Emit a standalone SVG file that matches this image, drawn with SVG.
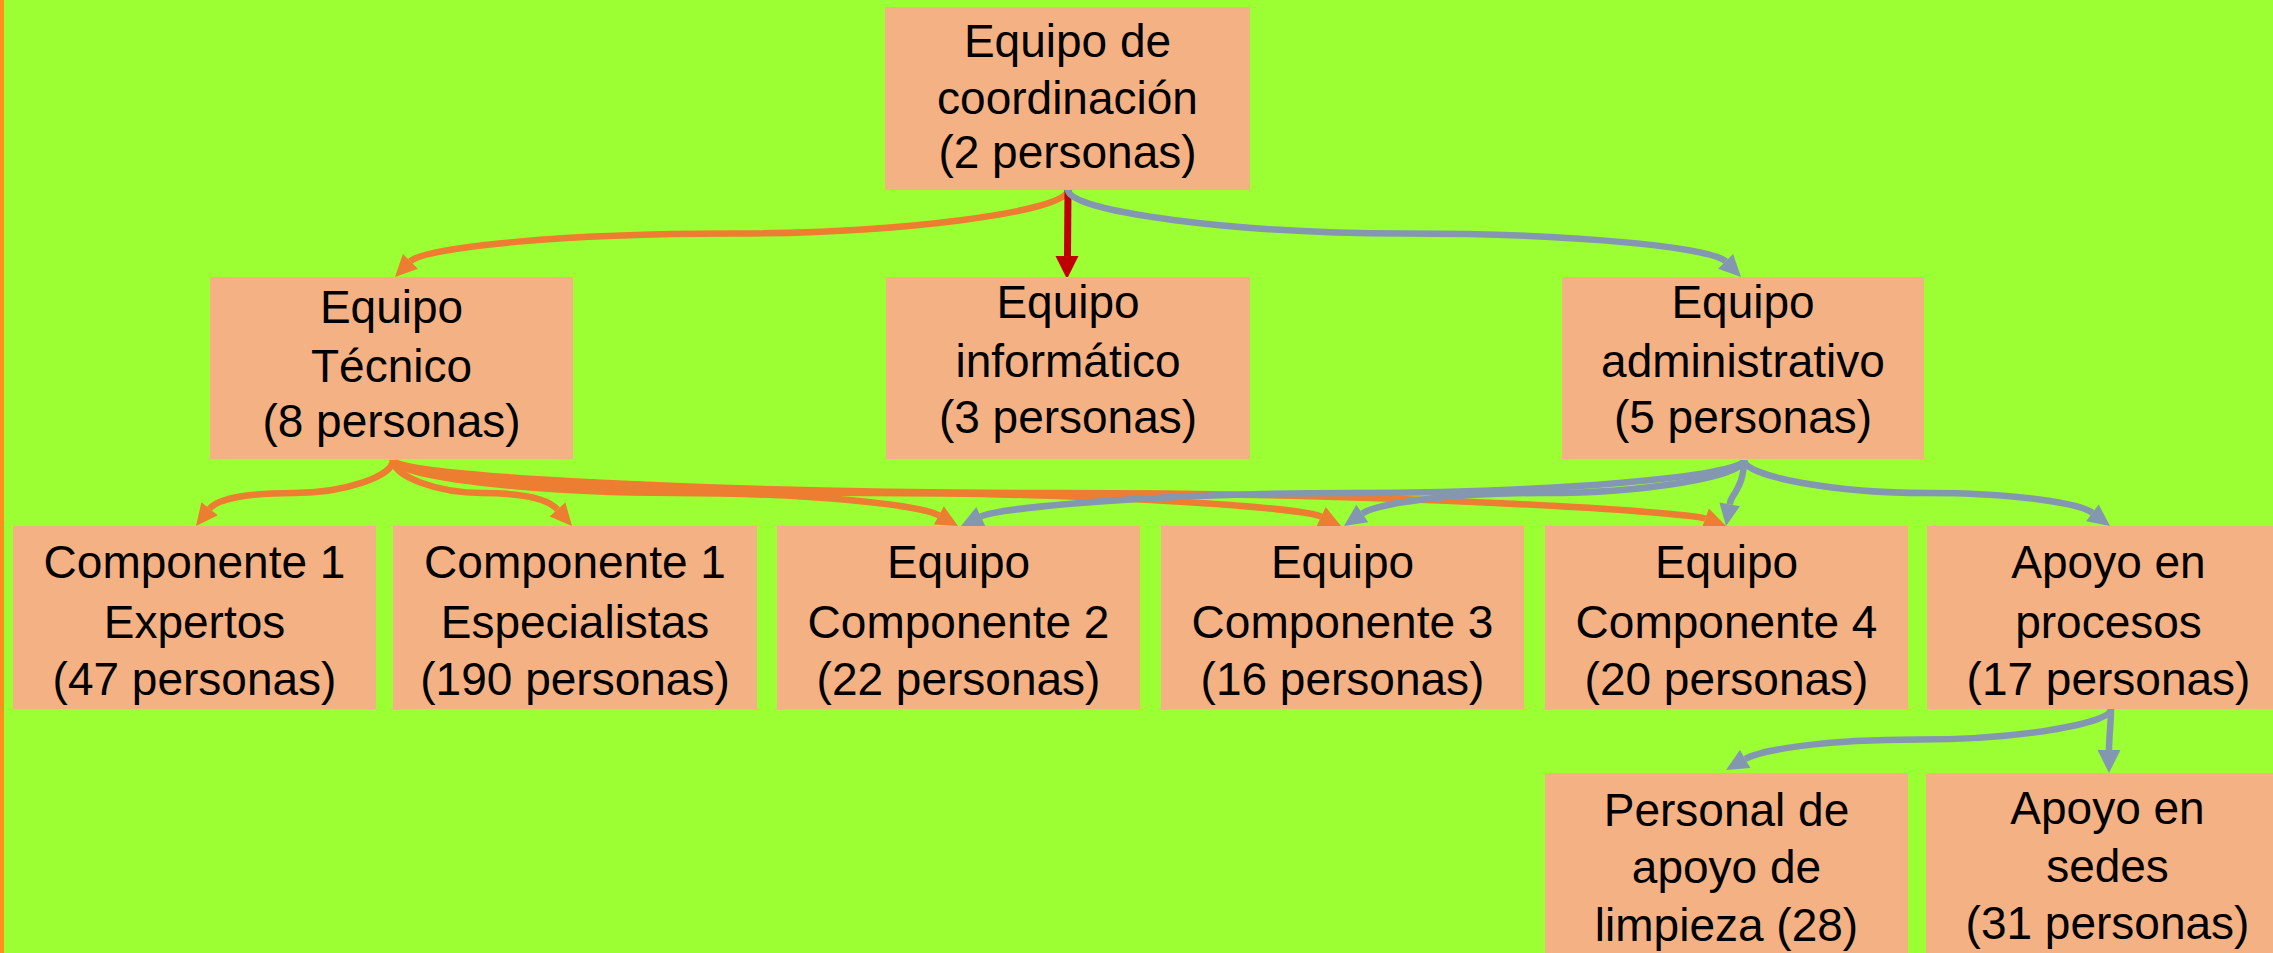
<svg xmlns="http://www.w3.org/2000/svg" width="2273" height="953" viewBox="0 0 2273 953">
<style>
.bg{fill:#9BFF33}
.node rect{fill:#F4B183}
.node text{font-family:"Liberation Sans",Arial,sans-serif;font-size:46px;fill:#000;text-anchor:middle}
.o{fill:none;stroke:#ED7D31;stroke-width:6.5}
.b{fill:none;stroke:#8497B0;stroke-width:6.5}
.r{fill:none;stroke:#C00000;stroke-width:7}
.oh{fill:#ED7D31}
.bh{fill:#8497B0}
.rh{fill:#C00000}
</style>
<rect class="bg" x="0" y="0" width="2273" height="953"/>
<rect x="0" y="0" width="4" height="953" fill="#FF8E1A"/>

<g id="connectors">
  <!-- top -> Tecnico -->
  <path class="o" d="M1068,190 C1068,211.75 900,233.5 731.5,233.5 C563,233.5 424.4,247.2 410.4,261.4"/>
  <polygon class="oh" points="395,277 402.9,254 417.9,268.8"/>
  <!-- top -> informatico -->
  <path class="r" d="M1068,190 L1067.5,257"/>
  <polygon class="rh" points="1067,279 1055.5,256 1078.5,256"/>
  <!-- top -> administrativo -->
  <path class="b" d="M1068,190 C1068,211.75 1236,233.5 1404.5,233.5 C1573,233.5 1711.6,247.2 1725.6,261.4"/>
  <polygon class="bh" points="1741,277 1718.1,268.8 1733.1,254"/>

  <!-- Tecnico -> Expertos -->
  <path class="o" d="M393,460 C393,476.5 344,493 294.5,493 C245,493 217,499.4 209.6,508.8"/>
  <polygon class="oh" points="196,526 201.4,502.3 217.8,515.3"/>
  <!-- Tecnico -> Especialistas -->
  <path class="o" d="M393,460 C393,476.5 437.75,493 482.5,493 C527.25,493 549.6,500.5 557.5,509.5"/>
  <polygon class="oh" points="572,526 549.6,516.4 565.4,502.6"/>
  <!-- Tecnico -> Comp 2 -->
  <path class="o" d="M393,460 C393,476.5 534.25,493 675.5,493 C816.75,493 921.5,505.8 938.9,515.4"/>
  <polygon class="oh" points="958,526 933.9,524.5 943.9,506.3"/>
  <!-- Tecnico -> Comp 3 -->
  <path class="o" d="M393,460 C393,476.5 630,493 867,493 C1104,493 1303.2,507.9 1321.2,516.5"/>
  <polygon class="oh" points="1341,526 1316.7,526 1325.7,507"/>
  <!-- Tecnico -> Comp 4 -->
  <path class="o" d="M393,460 C393,476.5 726.25,493 1059.5,493 C1392.75,493 1686.5,511.7 1705.3,518.5"/>
  <polygon class="oh" points="1726,526 1701.7,528.4 1708.9,508.6"/>

  <!-- Admin -> Comp 2 -->
  <path class="b" d="M1744,460 C1744,476.5 1548.25,493 1352.5,493 C1156.75,493 998.8,507.9 980.8,516.5"/>
  <polygon class="bh" points="961,526 976.3,507 985.3,525.9"/>
  <!-- Admin -> Comp 3 -->
  <path class="b" d="M1744,460 C1744,476.5 1644,493 1544,493 C1444,493 1375.6,504.4 1362.3,513.5"/>
  <polygon class="bh" points="1344,526 1356.3,504.8 1368.3,522.2"/>
  <!-- Admin -> Comp 4 -->
  <path class="b" d="M1744,460 C1744,476.5 1739.5,485 1735,493 C1731,499 1730.7,498.5 1729.7,504.4"/>
  <polygon class="bh" points="1726,526 1719.4,502.6 1740,506.2"/>
  <!-- Admin -> Apoyo procesos -->
  <path class="b" d="M1744,460 C1744,476.5 1835.5,493 1927,493 C2018.5,493 2080.4,503.8 2092.4,512.8"/>
  <polygon class="bh" points="2110,526 2086.1,521.2 2098.7,504.4"/>

  <!-- Apoyo procesos -> Personal limpieza -->
  <path class="b" d="M2111,709 C2111,724.25 2014.75,739.5 1918.5,739.5 C1822.25,739.5 1760.8,750 1745.1,759"/>
  <polygon class="bh" points="1726,770 1739.9,749.9 1750.4,768.1"/>
  <!-- Apoyo procesos -> Apoyo sedes -->
  <path class="b" d="M2111,709 C2111,725 2109,735 2109,751"/>
  <polygon class="bh" points="2109,773 2097.5,750 2120.5,750"/>
</g>

<g id="coordinacion" class="node">
  <rect x="885" y="7" width="365" height="183"/>
  <text x="1067.5"><tspan x="1067.5" y="57">Equipo de</tspan><tspan x="1067.5" y="114">coordinación</tspan><tspan x="1067.5" y="168">(2 personas)</tspan></text>
</g>
<g id="tecnico" class="node">
  <rect x="210" y="277" width="363" height="182"/>
  <text><tspan x="391.5" y="323">Equipo</tspan><tspan x="391.5" y="382">Técnico</tspan><tspan x="391.5" y="437">(8 personas)</tspan></text>
</g>
<g id="informatico" class="node">
  <rect x="886" y="277" width="364" height="182"/>
  <text><tspan x="1068" y="318">Equipo</tspan><tspan x="1068" y="377">informático</tspan><tspan x="1068" y="433">(3 personas)</tspan></text>
</g>
<g id="administrativo" class="node">
  <rect x="1562" y="277" width="362" height="182"/>
  <text><tspan x="1743" y="318">Equipo</tspan><tspan x="1743" y="377">administrativo</tspan><tspan x="1743" y="433">(5 personas)</tspan></text>
</g>

<g id="expertos" class="node">
  <rect x="13" y="526" width="363" height="183"/>
  <text><tspan x="194.5" y="578">Componente 1</tspan><tspan x="194.5" y="638">Expertos</tspan><tspan x="194.5" y="695">(47 personas)</tspan></text>
</g>
<g id="especialistas" class="node">
  <rect x="393" y="526" width="364" height="183"/>
  <text><tspan x="575" y="578">Componente 1</tspan><tspan x="575" y="638">Especialistas</tspan><tspan x="575" y="695">(190 personas)</tspan></text>
</g>
<g id="componente2" class="node">
  <rect x="777" y="526" width="363" height="183"/>
  <text><tspan x="958.5" y="578">Equipo</tspan><tspan x="958.5" y="638">Componente 2</tspan><tspan x="958.5" y="695">(22 personas)</tspan></text>
</g>
<g id="componente3" class="node">
  <rect x="1161" y="526" width="363" height="183"/>
  <text><tspan x="1342.5" y="578">Equipo</tspan><tspan x="1342.5" y="638">Componente 3</tspan><tspan x="1342.5" y="695">(16 personas)</tspan></text>
</g>
<g id="componente4" class="node">
  <rect x="1545" y="526" width="363" height="183"/>
  <text><tspan x="1726.5" y="578">Equipo</tspan><tspan x="1726.5" y="638">Componente 4</tspan><tspan x="1726.5" y="695">(20 personas)</tspan></text>
</g>
<g id="procesos" class="node">
  <rect x="1927" y="526" width="363" height="183"/>
  <text><tspan x="2108.5" y="578">Apoyo en</tspan><tspan x="2108.5" y="638">procesos</tspan><tspan x="2108.5" y="695">(17 personas)</tspan></text>
</g>

<g id="limpieza" class="node">
  <rect x="1545" y="773" width="363" height="183"/>
  <text><tspan x="1726.5" y="826">Personal de</tspan><tspan x="1726.5" y="883">apoyo de</tspan><tspan x="1726.5" y="941">limpieza (28)</tspan></text>
</g>
<g id="sedes" class="node">
  <rect x="1926" y="773" width="363" height="183"/>
  <text><tspan x="2107.5" y="824">Apoyo en</tspan><tspan x="2107.5" y="882">sedes</tspan><tspan x="2107.5" y="939">(31 personas)</tspan></text>
</g>
</svg>
